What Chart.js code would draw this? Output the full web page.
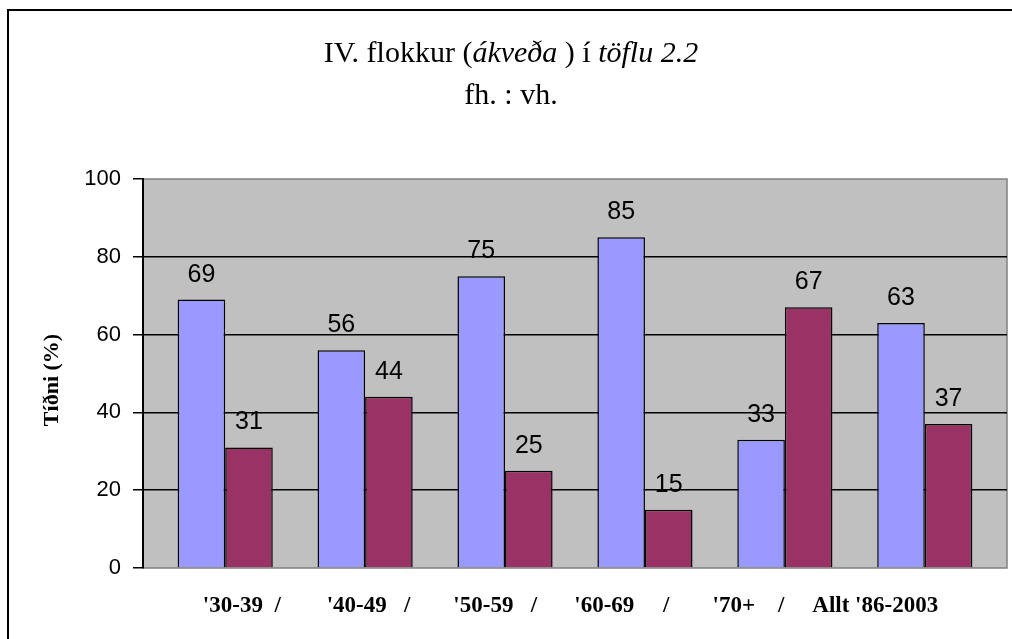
<!DOCTYPE html>
<html>
<head>
<meta charset="utf-8">
<script src="https://cdn.jsdelivr.net/npm/chart.js@4/dist/chart.umd.min.js"></script>
<style>
  html, body { margin: 0; padding: 0; background: #fff; overflow: hidden; }
  #frame {
    position: absolute; left: 7px; top: 9px; width: 1100px; height: 700px;
    border-left: 2px solid #000; border-top: 2px solid #000; box-sizing: border-box;
  }
  #c { position: absolute; left: 0; top: 0; }
</style>
</head>
<body>
<div id="frame"></div>
<canvas id="c" width="1012" height="639"></canvas>
<script>
// Age groups (speaker birth decades) and overall total
const categories = ["'30-39  /", "'40-49   /", "'50-59   /", "'60-69     /", "'70+    /", "Allt '86-2003"];
// Share of fh. vs vh. (%)
const fhValues = [69, 56, 75, 85, 33, 63];
const vhValues = [31, 44, 25, 15, 67, 37];
const yTicks = [0, 20, 40, 60, 80, 100];

const SERIF = "'Liberation Serif', 'Times New Roman', serif";
const SANS = "'Liberation Sans', Arial, sans-serif";

// Gray plot background, heading with mixed italics, axis title and value labels
const decorations = {
  id: 'decorations',
  beforeDraw(chart) {
    const { ctx, chartArea: a } = chart;
    ctx.save();
    ctx.fillStyle = '#C0C0C0';
    ctx.fillRect(a.left, a.top, a.right - a.left, a.bottom - a.top);
    ctx.strokeStyle = '#808080';
    ctx.lineWidth = 1.5;
    ctx.strokeRect(a.left, a.top, a.right - a.left, a.bottom - a.top);
    ctx.restore();
  },
  afterDraw(chart) {
    const { ctx } = chart;
    ctx.save();
    // heading, line 1: plain and italic runs
    const runs = [
      { t: 'IV. flokkur (', it: false },
      { t: 'ákveða', it: true },
      { t: ' ) í ', it: false },
      { t: 'töflu 2.2', it: true }
    ];
    const size = 30;
    let total = 0;
    runs.forEach(r => {
      ctx.font = (r.it ? 'italic ' : '') + size + 'px ' + SERIF;
      r.w = ctx.measureText(r.t).width;
      total += r.w;
    });
    const cx = chart.width / 2 + 5;
    let x = cx - total / 2;
    ctx.fillStyle = '#000';
    ctx.textBaseline = 'alphabetic';
    ctx.textAlign = 'left';
    runs.forEach(r => {
      ctx.font = (r.it ? 'italic ' : '') + size + 'px ' + SERIF;
      ctx.fillText(r.t, x, 62);
      x += r.w;
    });
    ctx.textAlign = 'center';
    ctx.font = size + 'px ' + SERIF;
    ctx.fillText('fh. : vh.', cx, 104);

    // y axis title
    ctx.save();
    ctx.translate(52, 380);
    ctx.rotate(-Math.PI / 2);
    ctx.font = 'bold 22px ' + SERIF;
    ctx.textBaseline = 'middle';
    ctx.fillText('Tíðni (%)', 0, 0);
    ctx.restore();

    // value labels above each bar
    ctx.font = '25px ' + SANS;
    ctx.textAlign = 'center';
    ctx.textBaseline = 'alphabetic';
    chart.data.datasets.forEach((ds, i) => {
      chart.getDatasetMeta(i).data.forEach((bar, j) => {
        ctx.fillText(String(ds.data[j]), bar.x, bar.y - 18);
      });
    });
    ctx.restore();
  }
};

// Extra room (in categories) left at both ends of the bar axis
const barAxisPad = 0.0875;
// The category text band is narrower than the bar band
const labelBand = { start: -0.78, range: 6.82 };

new Chart(document.getElementById('c'), {
  type: 'bar',
  data: {
    labels: categories,
    datasets: [
      { label: 'fh.', data: fhValues, backgroundColor: '#9999FF', borderColor: '#000', borderWidth: 1.5 },
      { label: 'vh.', data: vhValues, backgroundColor: '#993366', borderColor: '#000', borderWidth: 1.5 }
    ]
  },
  options: {
    responsive: false,
    animation: false,
    devicePixelRatio: 1,
    layout: { padding: { top: 179, right: 5, left: 0, bottom: 0 } },
    plugins: { legend: { display: false }, tooltip: { enabled: false }, title: { display: false } },
    datasets: { bar: { categoryPercentage: 0.68, barPercentage: 1.0 } },
    scales: {
      x: {
        display: false,
        afterBuildTicks(s) {
          s._startValue = s.min - 0.5 - barAxisPad;
          s._valueRange = s._valueRange + 2 * barAxisPad;
        }
      },
      xLabels: {
        type: 'category',
        labels: categories,
        position: 'bottom',
        offset: true,
        grid: { display: false, drawTicks: false },
        border: { display: false },
        ticks: { color: '#000', padding: 24, maxRotation: 0, autoSkip: false,
                 font: { family: SERIF, size: 23, weight: 'bold' } },
        afterBuildTicks(s) {
          s._startValue = labelBand.start;
          s._valueRange = labelBand.range;
        },
        afterFit(s) { s.height = 71; }
      },
      y: {
        min: 0, max: 100,
        afterBuildTicks(s) { s.ticks = yTicks.map(v => ({ value: v })); },
        grid: {
          color: ctx => (ctx.tick && (ctx.tick.value === 0 || ctx.tick.value === 100)) ? 'rgba(0,0,0,0)' : '#000',
          tickColor: '#000', lineWidth: 1.5, tickLength: 10
        },
        border: { color: '#000', width: 2 },
        ticks: { color: '#000', padding: 12, font: { family: SANS, size: 22 } },
        afterFit(s) { s.width = 143; }
      }
    }
  },
  plugins: [decorations]
});
</script>
</body>
</html>
